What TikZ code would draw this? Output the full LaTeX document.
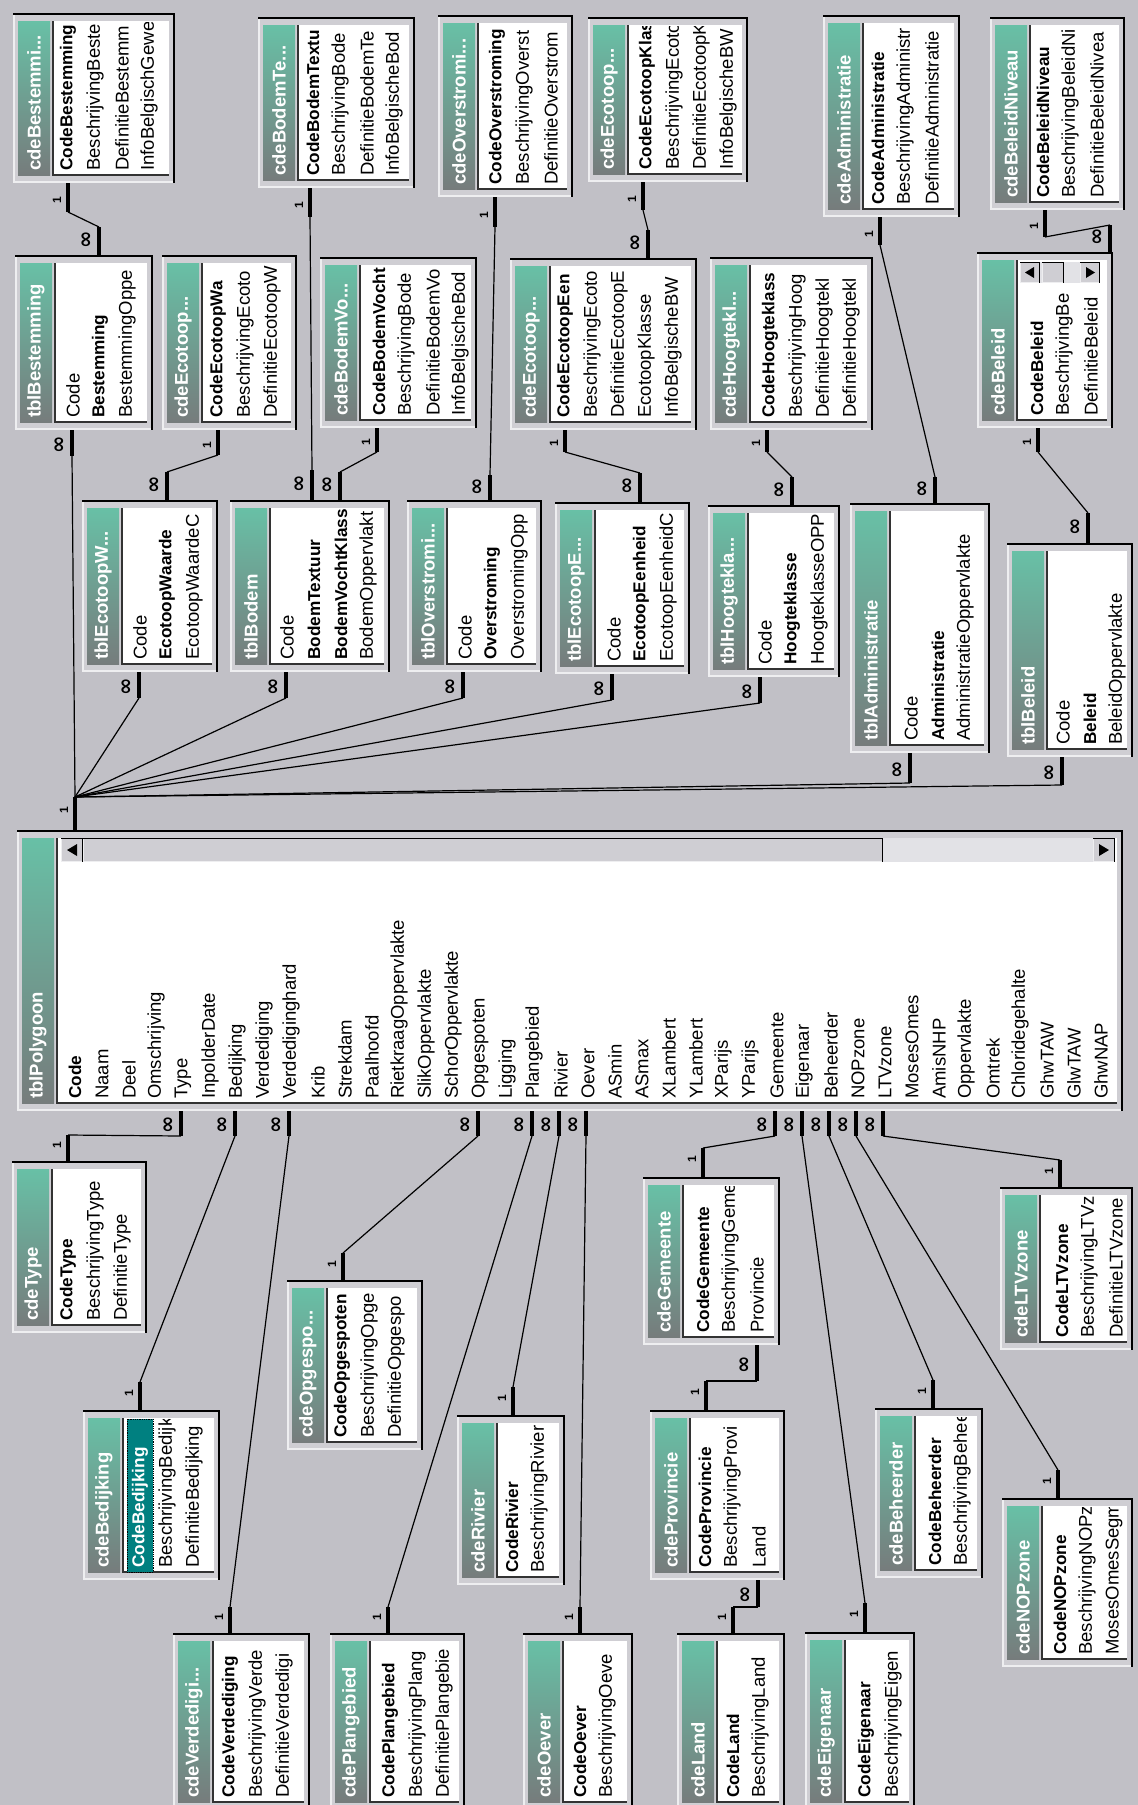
\documentclass[tikz,border=0pt]{standalone}
\usepackage{fontspec}
\setmainfont{Liberation Sans}
\newfontfamily\symf{DejaVu Sans}
\usetikzlibrary{fit}
\definecolor{bgc}{RGB}{193,192,198}
\definecolor{facec}{RGB}{207,206,211}
\definecolor{hlc}{RGB}{238,238,240}
\definecolor{tealc}{RGB}{104,192,166}
\definecolor{greyc}{RGB}{118,124,124}
\definecolor{selc}{RGB}{0,128,128}
\definecolor{trackc}{RGB}{226,226,230}
\tikzset{
 fieldtxt/.style={rotate=90,anchor=west,inner sep=0pt,font=\fontsize{18.5}{21}\selectfont,text=black},
 titletxt/.style={rotate=90,anchor=west,inner sep=0pt,font=\fontsize{18.5}{21}\selectfont\bfseries,text=white},
 stubline/.style={line width=3.5pt,black},
 conn/.style={line width=1.2pt,black},
 onelab/.style={rotate=90,inner sep=0pt,font=\fontsize{12}{12}\selectfont\bfseries},
 inflab/.style={rotate=90,inner sep=0pt,font=\symf\bfseries\fontsize{21}{21}\selectfont},
}
\newcommand\bfld[1]{{\fontsize{17.2}{21}\selectfont\bfseries #1}}
\newcommand\tbox[8]{%
  \coordinate (#1-nw) at (#2,#3);
  \coordinate (#1-se) at (#4,#5);
  \fill[facec] (#2,#3) rectangle (#4,#5);
  \draw[hlc,line width=1.6pt] (#2+0.8,#3+1) -- (#2+0.8,#5-0.8) -- (#4-1,#5-0.8);
  \draw[black,line width=2pt] (#2,#3+1) -- (#4-1,#3+1) -- (#4-1,#5);
  \shade[top color=tealc,bottom color=greyc] (#2+5,#3+8) rectangle (#2+37,#5-8);
  \begin{scope}
    \clip (#2+5,#3+8) rectangle (#2+37,#5-8);
    \node[titletxt] (#1-t) at (#2+21,#5-12) {#6};
  \end{scope}
  \fill[white] (#2+40,#3+8) rectangle (#4-6,#5-8);
  \draw[black!80,line width=1.5pt] (#2+40,#3+8) -- (#2+40,#5-8) -- (#4-6,#5-8);
  \begin{scope}
    \clip (#2+41,#3+9) rectangle (#4-6,#5-9);
    \foreach \f [count=\i from 0] in {#8} {
      \node[fieldtxt] (#1-f\i) at ({#7+27*\i},{#5-12}) {\f};
    }
  \end{scope}
  \node[fit=(#1-nw)(#1-se),inner sep=0pt] (#1) {};
}
\newcommand\oneStub[4]{%
  \draw[stubline] (#2,#3) -- (#2,#4);
  \coordinate (#1) at (#2,#4);
  \path (#2-11,0.4*#3+0.6*#4) node[onelab] (#1lab) {1};%
}
\newcommand\infStub[4]{%
  \draw[stubline] (#2,#3) -- (#2,#4);
  \coordinate (#1) at (#2,#4);
  \path (#2-12,0.45*#3+0.55*#4) node[inflab] (#1lab) {∞};%
}
\newcommand\sbtn[5]{% name x1 x2 y1 y2 (button face)
  \fill[facec] (#2,#4) rectangle (#3,#5);
  \draw[hlc,line width=1pt] (#2+0.5,#4+0.5) -- (#2+0.5,#5-0.5) -- (#3-0.5,#5-0.5);
  \draw[black,line width=1pt] (#2,#4+0.5) -- (#3-0.5,#4+0.5) -- (#3-0.5,#5);
  \coordinate (#1) at ({(#2+#3)/2},{(#4+#5)/2});}
\begin{document}
\begin{tikzpicture}[x=1pt,y=-1pt]
\useasboundingbox (0,0) rectangle (1138,1805);
\clip (0,0) rectangle (1138,1805);
\fill[bgc] (0,0) rectangle (1138,1805);

% ---------- row 1
\tbox{cBest}{13}{13}{175}{183}{cdeBestemmi...}{68}{\bfld{CodeBestemming},BeschrijvingBeste,DefinitieBestemm,InfoBelgischGewe}
\tbox{cBodTe}{258}{17}{415}{188}{cdeBodemTe...}{313}{\bfld{CodeBodemTextu},BeschrijvingBode,DefinitieBodemTe,InfoBelgischeBod}
\tbox{cOver}{438}{15}{573}{197}{cdeOverstromi...}{497}{\bfld{CodeOverstroming},BeschrijvingOverst,DefinitieOverstrom}
\tbox{cEcoK}{588}{17}{748}{182}{cdeEcotoop...}{647}{\bfld{CodeEcotoopKlas},BeschrijvingEcoto,DefinitieEcotoopK,InfoBelgischeBW}
\tbox{cAdm}{823}{15}{960}{217}{cdeAdministratie}{878}{\bfld{CodeAdministratie},BeschrijvingAdministr,DefinitieAdministratie}
\tbox{cBelN}{990}{17}{1125}{210}{cdeBeleidNiveau}{1043}{\bfld{CodeBeleidNiveau},BeschrijvingBeleidNi,DefinitieBeleidNivea}

% ---------- row 2
\tbox{tBest}{15}{255}{153}{430}{tblBestemming}{73}{Code,\bfld{Bestemming},BestemmingOppe}
\tbox{cEcoW}{162}{255}{297}{430}{cdeEcotoop...}{218}{\bfld{CodeEcotoopWa},BeschrijvingEcoto,DefinitieEcotoopW}
\tbox{cBodVo}{320}{257}{477}{428}{cdeBodemVo...}{379}{\bfld{CodeBodemVocht},BeschrijvingBode,DefinitieBodemVo,InfoBelgischeBod}
\tbox{cEcoE}{510}{258}{697}{430}{cdeEcotoop...}{565}{\bfld{CodeEcotoopEen},BeschrijvingEcoto,DefinitieEcotoopE,EcotoopKlasse,InfoBelgischeBW}
\tbox{cHoog}{710}{257}{873}{430}{cdeHoogtekl...}{770}{\bfld{CodeHoogteklass},BeschrijvingHoog,DefinitieHoogtekl,DefinitieHoogtekl}
\tbox{cBel}{977}{252}{1113}{428}{cdeBeleid}{1037}{\bfld{CodeBeleid},BeschrijvingBe,DefinitieBeleid}
\fill[trackc] (1020,262) rectangle (1100,283);
\sbtn{belUp}{1020}{1040}{262}{283}
\sbtn{belThumb}{1042}{1064}{262}{283}
\sbtn{belDn}{1080}{1100}{262}{283}
\fill (1025,272.5) -- (1034,267) -- (1034,278) -- cycle;
\fill (1095,272.5) -- (1086,267) -- (1086,278) -- cycle;

% ---------- row 3
\tbox{tEcoW}{82}{500}{218}{672}{tblEcotoopW...}{140}{Code,\bfld{EcotoopWaarde},EcotoopWaardeC}
\tbox{tBod}{230}{500}{390}{672}{tblBodem}{287}{Code,\bfld{BodemTextuur},\bfld{BodemVochtKlass},BodemOppervlakt}
\tbox{tOver}{407}{500}{542}{672}{tblOverstromi...}{465}{Code,\bfld{Overstroming},OverstromingOpp}
\tbox{tEcoE}{555}{502}{690}{674}{tblEcotoopE...}{614}{Code,\bfld{EcotoopEenheid},EcotoopEenheidC}
\tbox{tHoog}{708}{505}{840}{677}{tblHoogtekla...}{765}{Code,\bfld{Hoogteklasse},HoogteklasseOPP}
\tbox{tAdm}{850}{503}{990}{753}{tblAdministratie}{911}{Code,\bfld{Administratie},AdministratieOppervlakte}
\tbox{tBel}{1007}{543}{1133}{757}{tblBeleid}{1063}{Code,\bfld{Beleid},BeleidOppervlakte}

% ---------- main table
\tbox{tPoly}{17}{830}{1123}{1111}{tblPolygoon}{75}{\bfld{Code},Naam,Deel,Omschrijving,Type,InpolderDate,Bedijking,Verdediging,Verdediginghard,Krib,Strekdam,Paalhoofd,RietkraagOppervlakte,SlikOppervlakte,SchorOppervlakte,Opgespoten,Ligging,Plangebied,Rivier,Oever,ASmin,ASmax,XLambert,YLambert,XParijs,YParijs,Gemeente,Eigenaar,Beheerder,NOPzone,LTVzone,MosesOmes,AmisNHP,Oppervlakte,Omtrek,Chloridegehalte,GhwTAW,GlwTAW,GhwNAP}
\fill[trackc] (61,838) rectangle (1115,862);
\sbtn{polyUp}{61}{83}{838}{862}
\sbtn{polyThumb}{83}{883}{838}{862}
\sbtn{polyDn}{1093}{1115}{838}{862}
\fill (67,850) -- (77,844) -- (77,856) -- cycle;
\fill (1109,850) -- (1099,844) -- (1099,856) -- cycle;

% ---------- bottom tables
\tbox{cType}{12}{1161}{147}{1333}{cdeType}{68}{\bfld{CodeType},BeschrijvingType,DefinitieType}
\tbox{cBed}{83}{1410}{220}{1580}{cdeBedijking}{167}{BeschrijvingBedijk,DefinitieBedijking}
\fill[selc] (127,1419) rectangle (153,1572);
\node[fieldtxt,text=white] (cBedsel) at (140,1568) {\bfld{CodeBedijking}};
\draw[densely dotted,black,line width=0.8pt] (127,1419) rectangle (153,1572);
\tbox{cVerd}{173}{1633}{310}{1810}{cdeVerdedigi...}{230}{\bfld{CodeVerdediging},BeschrijvingVerde,DefinitieVerdedigi}
\tbox{cOpg}{287}{1280}{423}{1450}{cdeOpgespo...}{342}{\bfld{CodeOpgespoten},BeschrijvingOpge,DefinitieOpgespo}
\tbox{cPlan}{330}{1633}{465}{1810}{cdePlangebied}{390}{\bfld{CodePlangebied},BeschrijvingPlang,DefinitiePlangebie}
\tbox{cRiv}{457}{1415}{565}{1585}{cdeRivier}{512}{\bfld{CodeRivier},BeschrijvingRivier}
\tbox{cOev}{523}{1633}{633}{1810}{cdeOever}{580}{\bfld{CodeOever},BeschrijvingOeve}
\tbox{cGem}{643}{1177}{780}{1345}{cdeGemeente}{703}{\bfld{CodeGemeente},BeschrijvingGeme,Provincie}
\tbox{cProv}{650}{1410}{785}{1580}{cdeProvincie}{705}{\bfld{CodeProvincie},BeschrijvingProvi,Land}
\tbox{cLand}{677}{1633}{785}{1810}{cdeLand}{733}{\bfld{CodeLand},BeschrijvingLand}
\tbox{cEig}{805}{1632}{915}{1810}{cdeEigenaar}{866}{\bfld{CodeEigenaar},BeschrijvingEigen}
\tbox{cBeh}{875}{1408}{983}{1578}{cdeBeheerder}{935}{\bfld{CodeBeheerder},BeschrijvingBeheer}
\tbox{cNOP}{1002}{1498}{1133}{1667}{cdeNOPzone}{1060}{\bfld{CodeNOPzone},BeschrijvingNOPz,MosesOmesSegm}
\tbox{cLTV}{1000}{1187}{1133}{1350}{cdeLTVzone}{1062}{\bfld{CodeLTVzone},BeschrijvingLTVzo,DefinitieLTVzone}

% ---------- stubs: row1 -> row2
\oneStub{s1a}{68}{183}{212}
\infStub{s1b}{99}{255}{227}
\oneStub{s2a}{310}{188}{217}
\infStub{s2b}{312}{500}{470}
\oneStub{s3a}{495}{197}{227}
\infStub{s3b}{490}{500}{475}
\oneStub{s4a}{643}{182}{210}
\infStub{s4b}{648}{258}{230}
\oneStub{s5a}{880}{217}{245}
\infStub{s5b}{935}{503}{477}
\oneStub{s6a}{1045}{210}{237}
\infStub{s6b}{1110}{252}{225}
% row2 -> row3
\infStub{s7a}{72}{430}{456}
\oneStub{s8a}{218}{430}{455}
\infStub{s8b}{167}{500}{472}
\oneStub{s9a}{377}{428}{452}
\infStub{s9b}{340}{500}{472}
\oneStub{s10a}{565}{430}{452}
\infStub{s10b}{640}{502}{473}
\oneStub{s11a}{767}{430}{452}
\infStub{s11b}{792}{505}{477}
\oneStub{s12a}{1038}{428}{452}
\infStub{s12b}{1088}{543}{513}
% row3 -> hub
\infStub{h1}{139}{672}{698}
\infStub{h2}{286}{672}{698}
\infStub{h3}{463}{672}{698}
\infStub{h4}{612}{674}{700}
\infStub{h5}{760}{677}{703}
\infStub{h6}{910}{753}{783}
\infStub{h7}{1062}{757}{785}
\oneStub{hub}{75}{830}{797}
% polygoon bottom
\infStub{pType}{181}{1111}{1136}
\infStub{pBed}{235}{1111}{1136}
\infStub{pVerd}{289}{1111}{1136}
\infStub{pOpg}{478}{1111}{1136}
\infStub{pPlan}{532}{1111}{1136}
\infStub{pRiv}{559}{1111}{1136}
\infStub{pOev}{586}{1111}{1136}
\infStub{pGem}{775}{1111}{1136}
\infStub{pEig}{802}{1111}{1136}
\infStub{pBeh}{829}{1111}{1136}
\infStub{pNOP}{856}{1111}{1136}
\infStub{pLTV}{883}{1111}{1136}
\oneStub{cTypeA}{68}{1161}{1135}
\oneStub{cBedA}{140}{1410}{1382}
\oneStub{cVerdA}{230}{1633}{1607}
\oneStub{cOpgA}{343}{1280}{1253}
\oneStub{cPlanA}{388}{1633}{1607}
\oneStub{cRivA}{513}{1415}{1387}
\oneStub{cOevA}{580}{1633}{1607}
\oneStub{cGemA}{703}{1177}{1148}
\oneStub{cEigA}{865}{1632}{1603}
\oneStub{cBehA}{933}{1408}{1380}
\oneStub{cNOPA}{1058}{1498}{1470}
\oneStub{cLTVA}{1060}{1187}{1160}
\infStub{gemProv}{757}{1345}{1381}
\oneStub{provA}{706}{1410}{1381}
\infStub{provLand}{758}{1580}{1607}
\oneStub{landA}{733}{1633}{1607}

% ---------- connectors
\draw[conn] (s1a) -- (s1b);
\draw[conn] (s2a) -- (s2b);
\draw[conn] (s3a) -- (s3b);
\draw[conn] (s4a) -- (s4b);
\draw[conn] (s5a) -- (s5b);
\draw[conn] (s6a) -- (s6b);
\draw[conn] (s8a) -- (s8b);
\draw[conn] (s9a) -- (s9b);
\draw[conn] (s10a) -- (s10b);
\draw[conn] (s11a) -- (s11b);
\draw[conn] (s12a) -- (s12b);
\draw[conn] (hub) -- (s7a);
\draw[conn] (hub) -- (h1);
\draw[conn] (hub) -- (h2);
\draw[conn] (hub) -- (h3);
\draw[conn] (hub) -- (h4);
\draw[conn] (hub) -- (h5);
\draw[conn] (hub) -- (h6);
\draw[conn] (hub) -- (h7);
\draw[conn] (pType) -- (cTypeA);
\draw[conn] (pBed) -- (cBedA);
\draw[conn] (pVerd) -- (cVerdA);
\draw[conn] (pOpg) -- (cOpgA);
\draw[conn] (pPlan) -- (cPlanA);
\draw[conn] (pRiv) -- (cRivA);
\draw[conn] (pOev) -- (cOevA);
\draw[conn] (pGem) -- (cGemA);
\draw[conn] (pEig) -- (cEigA);
\draw[conn] (pBeh) -- (cBehA);
\draw[conn] (pNOP) -- (cNOPA);
\draw[conn] (pLTV) -- (cLTVA);
\draw[conn] (gemProv) -- (provA);
\draw[conn] (provLand) -- (landA);
\end{tikzpicture}
\end{document}
